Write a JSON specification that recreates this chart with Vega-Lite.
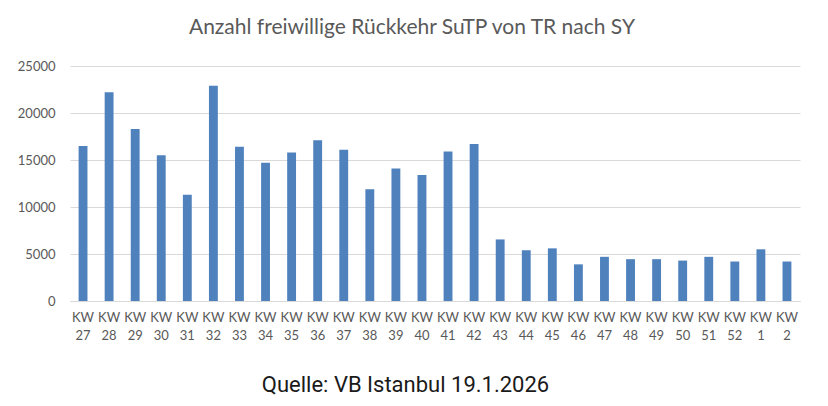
{
  "$schema": "https://vega.github.io/schema/vega-lite/v6.json",
  "width": 730,
  "height": 235,
  "autosize": "none",
  "padding": {"left": 70, "top": 66, "right": 28, "bottom": 105},
  "background": "white",
  "title": {
    "text": "Anzahl freiwillige Rückkehr SuTP von TR nach SY",
    "font": "Lato",
    "fontSize": 21,
    "fontWeight": "normal",
    "color": "#595959",
    "anchor": "middle",
    "dx": -23,
    "offset": 22
  },
  "data": {
    "values": [
      {"week": "KW 27", "count": 16500},
      {"week": "KW 28", "count": 22200},
      {"week": "KW 29", "count": 18300},
      {"week": "KW 30", "count": 15500},
      {"week": "KW 31", "count": 11300},
      {"week": "KW 32", "count": 22900},
      {"week": "KW 33", "count": 16400},
      {"week": "KW 34", "count": 14700},
      {"week": "KW 35", "count": 15800},
      {"week": "KW 36", "count": 17100},
      {"week": "KW 37", "count": 16100},
      {"week": "KW 38", "count": 11900},
      {"week": "KW 39", "count": 14100},
      {"week": "KW 40", "count": 13400},
      {"week": "KW 41", "count": 15900},
      {"week": "KW 42", "count": 16700},
      {"week": "KW 43", "count": 6550},
      {"week": "KW 44", "count": 5400},
      {"week": "KW 45", "count": 5600},
      {"week": "KW 46", "count": 3900},
      {"week": "KW 47", "count": 4700},
      {"week": "KW 48", "count": 4450},
      {"week": "KW 49", "count": 4450},
      {"week": "KW 50", "count": 4300},
      {"week": "KW 51", "count": 4700},
      {"week": "KW 52", "count": 4200},
      {"week": "KW 1", "count": 5500},
      {"week": "KW 2", "count": 4200}
    ]
  },
  "mark": {"type": "bar", "color": "#4F81BD", "width": {"band": 0.34}},
  "encoding": {
    "x": {
      "field": "week",
      "type": "nominal",
      "sort": null,
      "scale": {"paddingInner": 0, "paddingOuter": 0},
      "axis": {
        "title": "Quelle: VB Istanbul 19.1.2026",
        "titleFont": "Roboto",
        "titleFontSize": 22,
        "titleFontWeight": "normal",
        "titleColor": "#1a1a1a",
        "titleX": 335,
        "titlePadding": 32,
        "labelExpr": "split(datum.label, ' ')",
        "labelAngle": 0,
        "labelFont": "Lato",
        "labelFontSize": 13,
        "labelLineHeight": 18,
        "labelColor": "#595959",
        "labelPadding": 10,
        "ticks": false,
        "domainColor": "#d9d9d9",
        "grid": false
      }
    },
    "y": {
      "field": "count",
      "type": "quantitative",
      "scale": {"domain": [0, 25000]},
      "axis": {
        "title": null,
        "values": [0, 5000, 10000, 15000, 20000, 25000],
        "format": "d",
        "labelFont": "Lato",
        "labelFontSize": 13,
        "labelColor": "#595959",
        "labelPadding": 15,
        "ticks": false,
        "domain": false,
        "gridColor": "#d9d9d9"
      }
    }
  },
  "config": {
    "view": {"stroke": null}
  }
}
